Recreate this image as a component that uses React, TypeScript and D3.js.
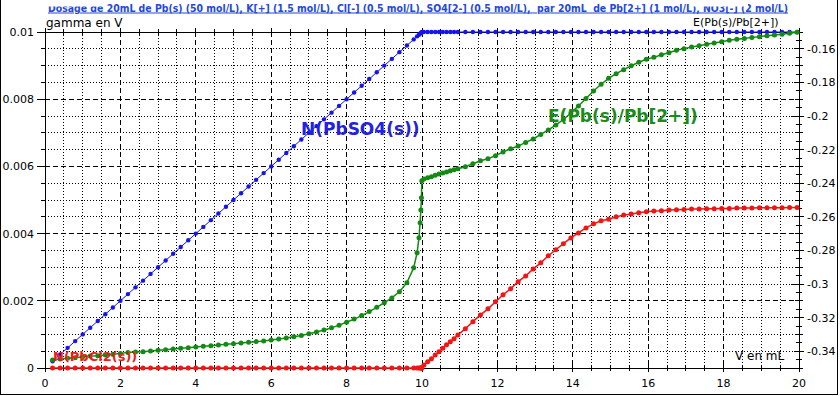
import React, { useEffect } from "react";
import * as d3 from "d3";

const TITLE = "Dosage de 20mL de Pb(s) (50 mol/L), K[+] (1.5 mol/L), Cl[-] (0.5 mol/L), SO4[2-] (0.5 mol/L),  par 20mL  de Pb[2+] (1 mol/L), NO3[-] (2 mol/L)";

const V_PRE = [0.2,0.4,0.6,0.8,1.0,1.2,1.4,1.6,1.8,2.0,2.2,2.4,2.6,2.8,3.0,3.2,3.4,3.6,3.8,4.0,4.2,4.4,4.6,4.8,5.0,5.2,5.4,5.6,5.8,6.0,6.2,6.4,6.6,6.8,7.0,7.2,7.4,7.6,7.8,8.0,8.2,8.4,8.6,8.8,9.0];
const V_JUMP = [9.2,9.4,9.6,9.78,9.87,9.92,9.95,9.97,9.985,9.995];
const V_POST = [10.05,10.15,10.25,10.35,10.45,10.55,10.65,10.75,10.85,10.95,11.15,11.35,11.55,11.75,11.95,12.15,12.35,12.55,12.75,12.95,13.15,13.35,13.55,13.75,13.95,14.15,14.35,14.55,14.75,14.95,15.15,15.35,15.55,15.75,15.95,16.15,16.35,16.55,16.75,16.95,17.15,17.35,17.55,17.75,17.95,18.15,18.35,18.55,18.75,18.95,19.15,19.35,19.55,19.75,19.95];

const N_PBSO4 = [0.0002,0.0004,0.0006,0.0008,0.001,0.0012,0.0014,0.0016,0.0018,0.002,0.0022,0.0024,0.0026,0.0028,0.003,0.0032,0.0034,0.0036,0.0038,0.004,0.0042,0.0044,0.0046,0.0048,0.005,0.0052,0.0054,0.0056,0.0058,0.006,0.0062,0.0064,0.0066,0.0068,0.007,0.0072,0.0074,0.0076,0.0078,0.008,0.0082,0.0084,0.0086,0.0088,0.009,
  0.0092,0.0094,0.0096,0.00978,0.00987,0.00992,0.00995,0.00997,0.009985,0.009995,
  0.01,0.01,0.01,0.01,0.01,0.01,0.01,0.01,0.01,0.01,0.01,0.01,0.01,0.01,0.01,0.01,0.01,0.01,0.01,0.01,0.01,0.01,0.01,0.01,0.01,0.01,0.01,0.01,0.01,0.01,0.01,0.01,0.01,0.01,0.01,0.01,0.01,0.01,0.01,0.01,0.01,0.01,0.01,0.01,0.01,0.01,0.01,0.01,0.01,0.01,0.01,0.01,0.01,0.01,0.01];

const E_PB = [-0.3452,-0.3446,-0.3442,-0.3439,-0.3433,-0.3429,-0.3427,-0.3423,-0.3418,-0.3413,-0.3407,-0.3405,-0.3403,-0.3399,-0.3395,-0.3391,-0.3387,-0.3383,-0.3379,-0.3375,-0.3371,-0.3367,-0.3363,-0.3359,-0.3355,-0.3351,-0.3347,-0.3343,-0.3339,-0.3333,-0.3327,-0.3321,-0.3314,-0.3306,-0.3296,-0.3286,-0.3274,-0.3261,-0.3245,-0.3228,-0.3209,-0.3188,-0.3164,-0.3139,-0.3111,
  -0.3083,-0.3046,-0.2992,-0.2903,-0.2814,-0.2724,-0.2635,-0.2560,-0.2486,-0.2385,
  -0.2375,-0.2367,-0.2361,-0.2353,-0.2345,-0.2339,-0.2333,-0.2326,-0.2320,-0.2314,-0.2302,-0.2284,-0.2266,-0.2254,-0.2236,-0.2214,-0.2195,-0.2179,-0.2157,-0.2137,-0.2110,-0.2083,-0.2054,-0.2021,-0.1982,-0.1940,-0.1896,-0.1851,-0.1811,-0.1776,-0.1748,-0.1724,-0.1701,-0.1680,-0.1662,-0.1651,-0.1635,-0.1623,-0.1609,-0.1599,-0.1589,-0.1582,-0.1573,-0.1565,-0.1558,-0.1549,-0.1543,-0.1538,-0.1532,-0.1528,-0.1522,-0.1518,-0.1514,-0.1508,-0.1502];

const N_PBCL2 = [0,0,0,0,0,0,0,0,0,0,0,0,0,0,0,0,0,0,0,0,0,0,0,0,0,0,0,0,0,0,0,0,0,0,0,0,0,0,0,0,0,0,0,0,0,
  0,0,0,0,0,0,0,0,0,0,
  0.000089,0.000188,0.000277,0.000387,0.000485,0.000586,0.000693,0.000783,0.000872,0.000982,0.00117,0.00138,0.00158,0.00176,0.00197,0.00218,0.00236,0.00257,0.00274,0.00295,0.00313,0.00334,0.00352,0.00370,0.00387,0.00402,0.00417,0.00429,0.00438,0.00443,0.00450,0.00455,0.00458,0.00462,0.00465,0.00467,0.00468,0.00470,0.00471,0.00472,0.00473,0.00473,0.00474,0.00474,0.00475,0.00475,0.00476,0.00476,0.00476,0.00477,0.00477,0.00477,0.00477,0.00478,0.00478];

const V = [...V_PRE, ...V_JUMP, ...V_POST];

const X_TICKS = [0, 2, 4, 6, 8, 10, 12, 14, 16, 18, 20];
const YL_TICKS = [0, 0.002, 0.004, 0.006, 0.008, 0.01];
const YR_TICKS = [-0.16, -0.18, -0.2, -0.22, -0.24, -0.26, -0.28, -0.3, -0.32, -0.34];

const FONT = "DejaVu Sans";

export default function App() {
  useEffect(() => {
    document.body.style.margin = "0";
  }, []);

  const W = 840, H = 396;
  const x = d3.scaleLinear().domain([0, 20]).range([45, 799]);
  const yL = d3.scaleLinear().domain([0, 0.01]).range([368, 32]);
  const yR = d3.scaleLinear().domain([-0.35, -0.15]).range([368, 32]);
  const x0 = x(0), x1 = x(20), yb = yL(0), yt = yL(0.01);

  const blue = V.map((v, i) => [x(v), yL(N_PBSO4[i])] as [number, number]);
  const green = V.map((v, i) => [x(v), yR(E_PB[i])] as [number, number]);
  const red = V.map((v, i) => [x(v), yL(N_PBCL2[i])] as [number, number]);
  const line = d3.line();

  const xMinor = d3.range(0, 41).map((k) => k * 0.5);
  const yMinor = d3.range(0, 21).map((k) => k * 0.0005);
  const rMinor = d3.range(0, 41).map((k) => -0.35 + k * 0.005);

  const near = (a: number, b: number) => Math.abs(a - b) < 1e-9;
  const fmtR = (t: number) => "-" + String(Math.abs(t));

  return (
    <svg width={W} height={H} style={{ position: "absolute", left: 0, top: 0, display: "block", background: "#fff" }} fontFamily={FONT}>
      <rect x={0} y={0} width={W} height={H} fill="#fff" />
      {/* grid */}
      <g shapeRendering="crispEdges" stroke="#000" strokeWidth={1}>
        {xMinor.filter((v) => v > 0 && v < 20).map((v) => {
          const major = near(v % 2, 0);
          return <line key={"gx" + v} x1={x(v)} x2={x(v)} y1={yt} y2={yb} strokeDasharray={major ? "5,3" : "1,2"} />;
        })}
        {yMinor.filter((v) => v > 0 && v < 0.00999).map((v, i) => {
          const major = (Math.round(v / 0.0005) % 4) === 0;
          return <line key={"gy" + i} x1={x0} x2={x1} y1={yL(v)} y2={yL(v)} strokeDasharray={major ? "5,3" : "1,2"} />;
        })}
      </g>
      {/* axes */}
      <g shapeRendering="crispEdges" stroke="#000" strokeWidth={1}>
        <line x1={x0} x2={x1} y1={yb} y2={yb} />
        <line x1={x0} x2={x1} y1={yt} y2={yt} />
        <line x1={x0} x2={x0} y1={yt} y2={yb} />
        <line x1={x1} x2={x1} y1={yt} y2={yb} />
        {xMinor.map((v) => {
          const major = near(v % 2, 0);
          const e = major ? 4 : 3;
          return (
            <g key={"tx" + v}>
              <line x1={x(v)} x2={x(v)} y1={yb - e} y2={yb + e} />
              <line x1={x(v)} x2={x(v)} y1={yt - e} y2={yt + e} />
            </g>
          );
        })}
        {yMinor.map((v, i) => {
          const major = (Math.round(v / 0.0005) % 4) === 0;
          return <line key={"tl" + i} x1={x0 - (major ? 8 : 4)} x2={x0 + 1} y1={yL(v)} y2={yL(v)} />;
        })}
        {rMinor.map((v, i) => {
          const k = Math.round((v + 0.35) / 0.005);
          let a = 3, b = 3;
          if (k % 2 === 0) { a = 4; b = 4; }
          if (k % 4 === 2) { a = 5; b = 5; }
          if (k === 30 || k === 10) { a = 8; b = 5; }
          return <line key={"tr" + i} x1={x1 - a} x2={x1 + b} y1={yR(v)} y2={yR(v)} />;
        })}
      </g>
      {/* tick labels */}
      <g fontSize={11} fill="#000">
        {X_TICKS.map((t) => (
          <text key={"lx" + t} x={x(t)} y={387} textAnchor="middle">{t}</text>
        ))}
        {YL_TICKS.map((t) => (
          <text key={"ll" + t} x={34} y={yL(t) + 4} textAnchor="end">{t}</text>
        ))}
        {YR_TICKS.map((t) => (
          <text key={"lr" + t} x={807} y={yR(t) + 4} textAnchor="start">{fmtR(t)}</text>
        ))}
      </g>
      {/* series */}
      <path d={line(blue) || ""} fill="none" stroke="#1414f0" strokeWidth={1} />
      {blue.map((p, i) => <circle key={"b" + i} cx={p[0]} cy={p[1]} r={2.2} fill="#1414f0" />)}
      <path d={line(green) || ""} fill="none" stroke="#138a13" strokeWidth={1.5} />
      {green.map((p, i) => <circle key={"g" + i} cx={p[0]} cy={p[1]} r={2.5} fill="#138a13" />)}
      <path d={line(red) || ""} fill="none" stroke="#f51414" strokeWidth={1.5} />
      {red.map((p, i) => <circle key={"r" + i} cx={p[0]} cy={p[1]} r={2.5} fill="#f51414" />)}
      {/* series labels */}
      <text x={301} y={135} fontSize={17} fontWeight="bold" fill="#2222e0">N(PbSO4(s))</text>
      <text x={548} y={122} fontSize={17} fontWeight="bold" fill="#1a8c1a">E(Pb(s)/Pb[2+])</text>
      <text x={53} y={361} fontSize={13} fontWeight="bold" fill="#f01c1c">N(PbCl2(s))</text>
      {/* title */}
      <text x={48} y={11.5} fontSize={10} fontWeight="bold" fill="#2448d8" textDecoration="underline" textLength={740} lengthAdjust="spacingAndGlyphs" style={{ whiteSpace: "pre" }}>{TITLE}</text>
      <rect x={45} y={0} width={60} height={6.5} fill="#fff" />
      <rect x={690} y={0} width={58} height={6.5} fill="#fff" />
      {/* axis titles */}
      <text x={46} y={27} fontSize={12} fill="#000">gamma en V</text>
      <text x={693} y={26} fontSize={11} fill="#000">E(Pb(s)/Pb[2+])</text>
      <text x={735} y={360} fontSize={12} fill="#000">V en mL</text>
      {/* frame */}
      <g stroke="#000" strokeWidth={1} shapeRendering="crispEdges">
        <line x1={0.5} x2={0.5} y1={0} y2={394.5} />
        <line x1={0} x2={838} y1={394.5} y2={394.5} />
        <line x1={837.5} x2={837.5} y1={0} y2={395} />
      </g>
    </svg>
  );
}
